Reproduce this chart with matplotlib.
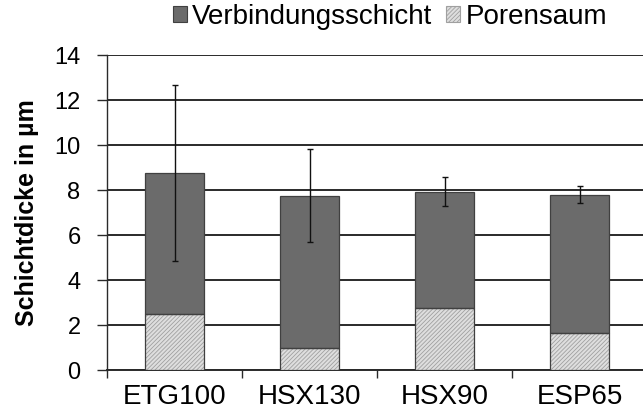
import matplotlib
matplotlib.use("Agg")
import matplotlib.pyplot as plt
from matplotlib.patches import Patch
import numpy as np

categories = ["ETG100", "HSX130", "HSX90", "ESP65"]
porensaum = [2.48, 1.0, 2.77, 1.63]
verbindung = [6.27, 6.75, 5.16, 6.17]
total_err = [3.9, 2.07, 0.65, 0.38]
yticks = [0, 2, 4, 6, 8, 10, 12, 14]

plt.rcParams['font.family'] = ['Liberation Sans', 'DejaVu Sans']
plt.rcParams['hatch.linewidth'] = 0.6

fig = plt.figure(figsize=(6.43, 4.19), dpi=100)
ax = fig.add_axes([107/643, 1 - 370/419, 540/643, 315/419])

x = np.arange(len(categories))
w = 0.44
dark = '#6b6b6b'
light = '#dedede'

ax.bar(x, porensaum, w, color=light, edgecolor='#a0a0a0', hatch='////////', linewidth=0, zorder=3)
ax.bar(x, porensaum, w, fill=False, edgecolor='#404040', linewidth=0.9, zorder=4)
ax.bar(x, verbindung, w, bottom=porensaum, color=dark, edgecolor='#404040', linewidth=0.9, zorder=3)
tot = np.array(porensaum) + np.array(verbindung)
ax.errorbar(x, tot, yerr=total_err, fmt='none', ecolor='#111111', elinewidth=1.0,
            capsize=2.5, capthick=1.0, zorder=5)

ax.set_xlim(-0.5, 3.5)
ax.set_ylim(0, 14)
ax.set_yticks(yticks)
ax.yaxis.grid(True, color='#2a2a2a', linewidth=1.4, zorder=0)
ax.set_axisbelow(True)
for s in ['top', 'right']:
    ax.spines[s].set_visible(False)
ax.spines['left'].set_color('#2a2a2a')
ax.spines['left'].set_linewidth(1.0)
ax.spines['bottom'].set_color('#2a2a2a')
ax.spines['bottom'].set_linewidth(1.4)

ax.set_xticks(x)
ax.set_xticklabels(categories, fontsize=20)
ax.tick_params(axis='x', which='major', length=0, pad=10)
ax.set_xticks(np.arange(-0.5, 4.0, 1.0), minor=True)
ax.tick_params(axis='x', which='minor', length=6, width=1.0, color='#2a2a2a', direction='out')
ax.tick_params(axis='y', length=7, width=1.0, color='#2a2a2a', labelsize=17, pad=12)

ax.set_ylabel("Schichtdicke in µm", fontsize=18, fontweight='bold', labelpad=11)

handles = [Patch(facecolor=dark, edgecolor='#404040', linewidth=0.8),
           Patch(facecolor=light, edgecolor='#a0a0a0', hatch='////////', linewidth=0.8)]
fig.legend(handles, ["Verbindungsschicht", "Porensaum"], loc='center', ncol=2,
           bbox_to_anchor=(390/643, 1 - 17/419), frameon=False, fontsize=20,
           handlelength=0.5, handleheight=0.5, handletextpad=0.2, columnspacing=0.5)

fig.savefig("out.png", dpi=100)
